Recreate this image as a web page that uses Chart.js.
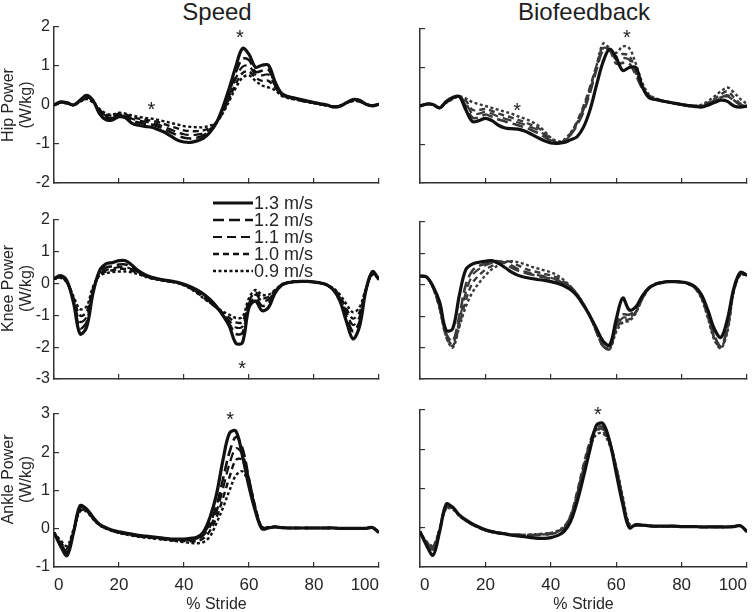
<!DOCTYPE html>
<html>
<head>
<meta charset="utf-8">
<script src="https://cdn.jsdelivr.net/npm/chart.js@4.4.0/dist/chart.umd.min.js"></script>
<style>
	body { margin:0; background:#fff; width:755px; height:612px; overflow:hidden; position:relative; font-family:Arial, "Liberation Sans", sans-serif; }
	canvas { position:absolute; }
	.colTitle { position:absolute; top:-2px; width:240px; text-align:center; font-size:24px; line-height:28px; color:#1e1e1e; }
</style>
</head>
<body>
<div class="colTitle" style="left:97px">Speed</div>
<div class="colTitle" style="left:464px">Biofeedback</div>

<canvas id="hipSpd"  width="381" height="194" style="left:0;top:8px"></canvas>
<canvas id="hipBio"  width="359" height="178" style="left:390px;top:17px"></canvas>
<canvas id="kneeSpd" width="381" height="208" style="left:0;top:190px"></canvas>
<canvas id="kneeBio" width="359" height="181" style="left:390px;top:210px"></canvas>
<canvas id="ankSpd"  width="392" height="220" style="left:0;top:395px"></canvas>
<canvas id="ankBio"  width="370" height="217" style="left:390px;top:398px"></canvas>

<script>
	// % stride samples shared by every curve
	var stride = [0,2,4,6,8,10,12,14,16,18, 20,22,24,26,28,30,32,34,36,38, 40,42,44,46,48,50,52,54,56,58,
		60,62,64,66,68,70,72,74,76,78, 80,82,84,86,88,90,92,94,96,98, 100];
	var speedLabels = ['1.3 m/s', '1.2 m/s', '1.1 m/s', '1.0 m/s', '0.9 m/s'];
	var xTicks = [0, 20, 40, 60, 80, 100];
	var hipTicks = [-2, -1, 0, 1, 2];
	var kneeTicks = [-3, -2, -1, 0, 1, 2];
	var ankleTicks = [-1, 0, 1, 2, 3];

	// hip power, speed condition
	var hipSpd13 = [0.00,0.08,0.06,0.00,0.12,0.25,0.12,-0.22,-0.38,-0.38, -0.30,-0.33,-0.47,-0.52,-0.55,-0.57,-0.63,-0.70,-0.80,-0.90,
		-0.95,-0.96,-0.92,-0.85,-0.70,-0.45,-0.05,0.45,1.00,1.45, 1.30,0.97,1.02,1.02,0.60,0.30,0.22,0.18,0.14,0.10,
		0.06,0.03,0.00,-0.05,-0.03,0.06,0.14,0.12,0.02,-0.02, 0.02];
	var hipSpd12 = [0.00,0.07,0.05,0.00,0.10,0.20,0.10,-0.18,-0.32,-0.34, -0.27,-0.30,-0.40,-0.45,-0.48,-0.50,-0.55,-0.62,-0.70,-0.78,
		-0.84,-0.86,-0.84,-0.78,-0.66,-0.45,-0.10,0.35,0.85,1.18, 1.15,0.85,0.88,0.90,0.56,0.29,0.21,0.17,0.13,0.09,
		0.05,0.02,-0.01,-0.05,-0.03,0.06,0.13,0.11,0.02,-0.02, 0.02];
	var hipSpd11 = [0.00,0.07,0.05,0.00,0.10,0.18,0.10,-0.15,-0.28,-0.30, -0.25,-0.27,-0.35,-0.40,-0.43,-0.45,-0.50,-0.56,-0.63,-0.70,
		-0.75,-0.77,-0.76,-0.72,-0.62,-0.45,-0.15,0.25,0.70,0.98, 1.00,0.78,0.76,0.78,0.50,0.27,0.20,0.16,0.12,0.08,
		0.05,0.02,-0.01,-0.04,-0.02,0.06,0.12,0.10,0.02,-0.02, 0.02];
	var hipSpd10 = [0.00,0.06,0.04,0.00,0.09,0.16,0.08,-0.12,-0.25,-0.27, -0.22,-0.24,-0.31,-0.35,-0.38,-0.40,-0.44,-0.49,-0.55,-0.60,
		-0.65,-0.67,-0.67,-0.65,-0.58,-0.45,-0.18,0.18,0.55,0.82, 0.86,0.70,0.62,0.62,0.45,0.26,0.19,0.15,0.11,0.08,
		0.05,0.02,-0.01,-0.04,-0.02,0.05,0.11,0.09,0.02,-0.02, 0.02];
	var hipSpd09 = [0.00,0.06,0.04,0.00,0.08,0.15,0.06,-0.10,-0.22,-0.24, -0.20,-0.22,-0.27,-0.30,-0.33,-0.35,-0.38,-0.42,-0.46,-0.50,
		-0.54,-0.56,-0.57,-0.57,-0.53,-0.44,-0.20,0.12,0.45,0.70, 0.76,0.62,0.50,0.45,0.38,0.24,0.18,0.14,0.11,0.08,
		0.05,0.02,-0.01,-0.04,-0.02,0.05,0.10,0.09,0.02,-0.02, 0.02];

	// hip power, biofeedback condition
	var hipBio13 = [0.00,0.05,0.04,-0.05,0.12,0.22,0.25,-0.10,-0.40,-0.38, -0.32,-0.38,-0.50,-0.57,-0.59,-0.60,-0.65,-0.73,-0.82,-0.90,
		-0.96,-0.97,-0.95,-0.88,-0.80,-0.55,-0.10,0.55,1.15,1.48, 1.25,0.92,1.00,1.00,0.50,0.22,0.17,0.13,0.10,0.07,
		0.04,0.01,-0.01,-0.03,0.02,0.09,0.15,0.12,0.00,-0.03, 0.00];
	var hipBio12 = [0.00,0.05,0.04,-0.05,0.10,0.20,0.25,0.00,-0.30,-0.30, -0.22,-0.28,-0.35,-0.40,-0.45,-0.50,-0.55,-0.62,-0.70,-0.80,
		-0.90,-0.97,-0.92,-0.75,-0.50,-0.15,0.35,0.95,1.45,1.45, 1.10,1.12,1.10,0.80,0.45,0.25,0.18,0.13,0.10,0.07,
		0.04,0.02,0.00,0.00,0.06,0.14,0.22,0.28,0.15,0.03, 0.00];
	var hipBio11 = [0.00,0.05,0.03,-0.05,0.10,0.19,0.25,0.08,-0.20,-0.20, -0.15,-0.20,-0.28,-0.33,-0.38,-0.43,-0.48,-0.55,-0.62,-0.74,
		-0.85,-0.95,-0.92,-0.75,-0.45,-0.10,0.40,1.00,1.50,1.45, 1.20,1.25,1.20,0.85,0.50,0.27,0.19,0.14,0.10,0.07,
		0.04,0.02,0.00,0.00,0.05,0.12,0.20,0.25,0.14,0.03, 0.00];
	var hipBio10 = [0.00,0.05,0.03,-0.05,0.09,0.18,0.25,0.14,-0.10,-0.10, -0.08,-0.13,-0.20,-0.25,-0.30,-0.36,-0.42,-0.49,-0.56,-0.70,
		-0.85,-0.96,-0.90,-0.72,-0.40,0.00,0.50,1.05,1.55,1.45, 1.28,1.35,1.30,0.90,0.52,0.28,0.19,0.14,0.10,0.07,
		0.04,0.02,0.00,0.01,0.08,0.18,0.30,0.38,0.22,0.06, 0.00];
	var hipBio09 = [0.00,0.05,0.03,-0.05,0.08,0.18,0.25,0.20,0.10,0.05, 0.00,-0.05,-0.10,-0.15,-0.20,-0.27,-0.33,-0.40,-0.50,-0.65,
		-0.82,-0.92,-0.88,-0.70,-0.45,-0.05,0.45,1.05,1.62,1.50, 1.38,1.55,1.50,1.10,0.60,0.30,0.20,0.14,0.10,0.06,
		0.03,0.00,0.00,0.03,0.12,0.25,0.38,0.48,0.35,0.18, 0.05];

	// knee power, speed condition
	var kneeSpd13 = [0.15,0.25,0.08,-0.60,-1.58,-1.38,-0.30,0.40,0.62,0.66, 0.72,0.72,0.58,0.40,0.28,0.20,0.15,0.11,0.08,0.04,
		-0.02,-0.10,-0.20,-0.33,-0.50,-0.72,-1.00,-1.35,-1.88,-1.85, -0.75,-0.55,-0.85,-0.75,-0.30,-0.05,0.03,0.06,0.07,0.07,
		0.05,0.02,-0.04,-0.20,-0.55,-1.20,-1.74,-1.35,-0.20,0.38, 0.12];
	var kneeSpd12 = [0.15,0.22,0.05,-0.55,-1.40,-1.22,-0.25,0.35,0.50,0.55, 0.60,0.60,0.50,0.36,0.26,0.19,0.14,0.10,0.07,0.03,
		-0.03,-0.12,-0.24,-0.38,-0.55,-0.75,-1.00,-1.28,-1.58,-1.55, -0.70,-0.45,-0.70,-0.62,-0.28,-0.05,0.03,0.06,0.07,0.07,
		0.05,0.02,-0.05,-0.20,-0.50,-1.05,-1.50,-1.20,-0.20,0.35, 0.15];
	var kneeSpd11 = [0.15,0.20,0.04,-0.50,-1.20,-1.05,-0.20,0.30,0.42,0.47, 0.52,0.52,0.45,0.34,0.25,0.18,0.14,0.10,0.07,0.03,
		-0.04,-0.14,-0.26,-0.42,-0.58,-0.76,-0.96,-1.18,-1.38,-1.35, -0.62,-0.35,-0.55,-0.50,-0.25,-0.04,0.03,0.06,0.07,0.07,
		0.05,0.02,-0.05,-0.18,-0.45,-0.90,-1.30,-1.05,-0.20,0.32, 0.15];
	var kneeSpd10 = [0.15,0.20,0.04,-0.45,-1.00,-0.90,-0.15,0.27,0.38,0.42, 0.46,0.46,0.40,0.32,0.24,0.17,0.13,0.09,0.06,0.02,
		-0.05,-0.15,-0.28,-0.44,-0.60,-0.76,-0.92,-1.08,-1.22,-1.20, -0.55,-0.28,-0.45,-0.42,-0.22,-0.04,0.03,0.06,0.07,0.07,
		0.05,0.02,-0.05,-0.16,-0.40,-0.80,-1.10,-0.90,-0.18,0.30, 0.15];
	var kneeSpd09 = [0.15,0.18,0.03,-0.40,-0.80,-0.72,-0.10,0.25,0.33,0.36, 0.38,0.38,0.35,0.29,0.22,0.16,0.12,0.09,0.06,0.02,
		-0.06,-0.16,-0.30,-0.46,-0.60,-0.74,-0.88,-0.98,-1.08,-1.05, -0.45,-0.20,-0.35,-0.35,-0.20,-0.03,0.03,0.06,0.07,0.07,
		0.05,0.02,-0.05,-0.15,-0.35,-0.65,-0.90,-0.75,-0.15,0.28, 0.15];

	// knee power, biofeedback condition
	var kneeBio13 = [0.28,0.25,-0.05,-0.55,-1.45,-1.40,-0.35,0.48,0.66,0.72, 0.75,0.77,0.68,0.55,0.40,0.30,0.24,0.20,0.17,0.14,
		0.10,0.05,-0.03,-0.15,-0.35,-0.65,-1.00,-1.40,-1.80,-1.92, -1.10,-0.42,-0.80,-0.70,-0.35,-0.10,0.02,0.07,0.10,0.10,
		0.09,0.05,-0.05,-0.30,-0.80,-1.40,-1.68,-1.10,-0.10,0.40, 0.30];
	var kneeBio12 = [0.28,0.25,-0.08,-0.70,-1.55,-1.80,-1.00,0.00,0.45,0.60, 0.68,0.74,0.75,0.68,0.55,0.45,0.38,0.33,0.28,0.24,
		0.20,0.14,0.05,-0.08,-0.30,-0.62,-1.00,-1.50,-1.95,-2.00, -1.30,-0.95,-0.95,-0.80,-0.40,-0.10,0.03,0.08,0.10,0.10,
		0.08,0.03,-0.08,-0.35,-0.90,-1.60,-1.95,-1.35,-0.15,0.35, 0.30];
	var kneeBio11 = [0.28,0.25,-0.08,-0.72,-1.60,-1.90,-1.15,-0.25,0.30,0.50, 0.62,0.70,0.74,0.72,0.62,0.50,0.42,0.36,0.31,0.27,
		0.22,0.16,0.07,-0.06,-0.30,-0.62,-1.00,-1.50,-1.95,-2.02, -1.35,-1.05,-1.05,-0.85,-0.42,-0.11,0.03,0.08,0.10,0.10,
		0.08,0.03,-0.08,-0.38,-0.95,-1.65,-1.98,-1.40,-0.15,0.35, 0.30];
	var kneeBio10 = [0.28,0.25,-0.10,-0.75,-1.65,-1.95,-1.30,-0.50,0.05,0.30, 0.48,0.60,0.70,0.76,0.72,0.62,0.52,0.45,0.40,0.35,
		0.30,0.22,0.10,-0.05,-0.30,-0.62,-1.00,-1.50,-1.95,-2.05, -1.40,-1.15,-1.10,-0.88,-0.44,-0.12,0.03,0.08,0.10,0.10,
		0.08,0.03,-0.10,-0.40,-1.00,-1.70,-2.00,-1.45,-0.18,0.33, 0.30];
	var kneeBio09 = [0.28,0.25,-0.10,-0.75,-1.65,-2.00,-1.35,-0.70,-0.25,0.05, 0.30,0.50,0.62,0.72,0.75,0.72,0.66,0.58,0.52,0.46,
		0.40,0.30,0.15,-0.05,-0.30,-0.62,-1.00,-1.50,-1.95,-2.05, -1.50,-1.20,-1.15,-0.90,-0.45,-0.12,0.03,0.08,0.10,0.10,
		0.08,0.03,-0.10,-0.42,-1.05,-1.75,-2.02,-1.50,-0.20,0.32, 0.30];

	// ankle power, speed condition
	var ankSpd13 = [-0.10,-0.45,-0.70,-0.10,0.60,0.52,0.30,0.12,0.03,-0.04, -0.08,-0.11,-0.14,-0.17,-0.19,-0.21,-0.23,-0.25,-0.27,-0.27,
		-0.27,-0.25,-0.22,-0.08,0.30,0.90,1.80,2.50,2.55,1.90, 1.10,0.45,0.00,0.02,0.05,0.03,0.02,0.02,0.02,0.02,
		0.02,0.02,0.02,0.02,0.01,0.01,0.01,0.01,0.01,0.03, -0.10];
	var ankSpd12 = [-0.10,-0.40,-0.62,-0.10,0.55,0.50,0.28,0.11,0.02,-0.05, -0.09,-0.12,-0.15,-0.18,-0.20,-0.22,-0.24,-0.26,-0.28,-0.28,
		-0.28,-0.27,-0.25,-0.12,0.15,0.60,1.30,2.00,2.40,2.10, 1.30,0.50,0.00,0.03,0.05,0.03,0.02,0.02,0.02,0.02,
		0.02,0.02,0.02,0.02,0.01,0.01,0.01,0.01,0.01,0.03, -0.10];
	var ankSpd11 = [-0.10,-0.38,-0.58,-0.08,0.50,0.48,0.27,0.10,0.01,-0.05, -0.10,-0.13,-0.16,-0.19,-0.21,-0.23,-0.25,-0.27,-0.29,-0.29,
		-0.30,-0.30,-0.28,-0.17,0.05,0.45,1.05,1.70,2.10,1.95, 1.30,0.55,0.02,0.03,0.05,0.03,0.02,0.02,0.02,0.02,
		0.02,0.02,0.02,0.02,0.01,0.01,0.01,0.01,0.01,0.03, -0.10];
	var ankSpd10 = [-0.10,-0.35,-0.52,-0.05,0.48,0.46,0.26,0.10,0.01,-0.05, -0.10,-0.14,-0.17,-0.20,-0.22,-0.24,-0.26,-0.28,-0.30,-0.31,
		-0.32,-0.33,-0.32,-0.25,-0.05,0.30,0.80,1.35,1.80,1.80, 1.25,0.55,0.03,0.04,0.05,0.03,0.02,0.02,0.02,0.02,
		0.02,0.02,0.02,0.02,0.01,0.01,0.01,0.01,0.01,0.03, -0.10];
	var ankSpd09 = [-0.10,-0.30,-0.45,-0.02,0.45,0.45,0.25,0.09,0.00,-0.06, -0.11,-0.15,-0.18,-0.21,-0.23,-0.25,-0.27,-0.29,-0.31,-0.33,
		-0.35,-0.37,-0.38,-0.35,-0.20,0.15,0.55,1.00,1.40,1.50, 1.15,0.50,0.05,0.04,0.05,0.03,0.02,0.02,0.02,0.02,
		0.02,0.02,0.02,0.02,0.01,0.01,0.01,0.01,0.01,0.03, -0.10];

	// ankle power, biofeedback condition
	var ankBio13 = [-0.10,-0.45,-0.70,-0.10,0.60,0.52,0.33,0.20,0.10,0.02, -0.05,-0.10,-0.13,-0.16,-0.19,-0.21,-0.23,-0.25,-0.27,-0.27,
		-0.25,-0.20,-0.10,0.15,0.65,1.30,2.00,2.62,2.65,2.20, 1.40,0.60,0.00,0.08,0.07,0.05,0.04,0.04,0.04,0.04,
		0.03,0.03,0.03,0.02,0.02,0.02,0.02,0.02,0.03,0.05, -0.10];
	var ankBio12 = [-0.10,-0.40,-0.55,-0.05,0.55,0.50,0.32,0.19,0.09,0.01, -0.06,-0.10,-0.13,-0.15,-0.17,-0.18,-0.19,-0.19,-0.19,-0.18,
		-0.16,-0.12,-0.02,0.25,0.80,1.50,2.15,2.55,2.55,2.20, 1.50,0.70,0.05,0.06,0.06,0.05,0.04,0.04,0.04,0.04,
		0.03,0.03,0.03,0.02,0.02,0.02,0.02,0.02,0.03,0.05, -0.10];
	var ankBio11 = [-0.10,-0.38,-0.50,-0.05,0.52,0.50,0.32,0.19,0.09,0.01, -0.06,-0.10,-0.13,-0.15,-0.17,-0.18,-0.19,-0.19,-0.18,-0.17,
		-0.15,-0.10,0.00,0.30,0.85,1.55,2.15,2.50,2.50,2.20, 1.55,0.75,0.05,0.06,0.06,0.05,0.04,0.04,0.04,0.04,
		0.03,0.03,0.03,0.02,0.02,0.02,0.02,0.02,0.03,0.05, -0.10];
	var ankBio10 = [-0.10,-0.36,-0.48,-0.04,0.50,0.48,0.31,0.18,0.08,0.00, -0.07,-0.11,-0.14,-0.16,-0.17,-0.18,-0.18,-0.18,-0.17,-0.16,
		-0.14,-0.10,0.02,0.30,0.90,1.60,2.20,2.50,2.45,2.15, 1.55,0.75,0.06,0.06,0.06,0.05,0.04,0.04,0.04,0.04,
		0.03,0.03,0.03,0.02,0.02,0.02,0.02,0.02,0.03,0.05, -0.10];
	var ankBio09 = [-0.10,-0.35,-0.45,-0.03,0.48,0.47,0.30,0.18,0.08,0.00, -0.07,-0.11,-0.14,-0.16,-0.17,-0.18,-0.18,-0.17,-0.16,-0.15,
		-0.13,-0.08,0.03,0.25,0.85,1.50,2.05,2.38,2.40,2.10, 1.55,0.80,0.10,0.06,0.06,0.05,0.04,0.04,0.04,0.04,
		0.03,0.03,0.03,0.02,0.02,0.02,0.02,0.02,0.03,0.05, -0.10];

	// significance markers: [% stride, power]
	var hipSpdStars = [[30, 0.0], [57.2, 1.86]];
	var hipBioStars = [[29.7, 0.0], [63.3, 1.9]];
	var kneeSpdStars = [[57.9, -2.5]];
	var kneeBioStars = [];
	var ankSpdStars = [[54.2, 2.98]];
	var ankBioStars = [[54.4, 3.0]];

	var fam = 'Arial, "Liberation Sans", sans-serif';
	var axisCol = '#262626';
	var dashes = [[], [11, 5], [9, 5], [6, 4], [3, 2.5]];
	var widths = [3.2, 2.6, 2.2, 2.4, 2.4];

	Chart.defaults.font.family = fam;
	Chart.defaults.color = axisCol;

	var starPlugin = {
		id: 'stars',
		afterDatasetsDraw: function(chart, args, opts) {
			var ctx = chart.ctx;
			ctx.save();
			ctx.fillStyle = '#222';
			ctx.font = '20px ' + fam;
			ctx.textAlign = 'center';
			ctx.textBaseline = 'alphabetic';
			(opts.points || []).forEach(function(p) {
				var px = chart.scales.x.getPixelForValue(p[0]);
				var py = chart.scales.y.getPixelForValue(p[1]);
				ctx.fillText('*', px, py + 11.4);
			});
			ctx.restore();
		}
	};

	var legendPlugin = {
		id: 'speedLegend',
		afterDraw: function(chart, args, opts) {
			if (!opts.show) return;
			var ctx = chart.ctx;
			chart.data.datasets.forEach(function(ds, i) {
				var y = opts.y + i * opts.step;
				ctx.save();
				ctx.strokeStyle = ds.borderColor;
				ctx.lineWidth = ds.borderWidth;
				ctx.setLineDash(ds.borderDash);
				ctx.beginPath();
				ctx.moveTo(opts.x, y);
				ctx.lineTo(opts.x + opts.len, y);
				ctx.stroke();
				ctx.setLineDash([]);
				ctx.fillStyle = axisCol;
				ctx.font = '18px ' + fam;
				ctx.textBaseline = 'middle';
				ctx.fillText(ds.label, opts.x + opts.len + 1, y + 1);
				ctx.restore();
			});
		}
	};

	function toPoints(vals) {
		return vals.map(function(v, i) { return {x: stride[i], y: v}; });
	}

	function buildPanel(p) {
		var datasets = p.series.map(function(vals, i) {
			var col = '#111';
			if (p.bio && i > 0) col = '#3a3a3a';
			return {
				label: speedLabels[i],
				data: toPoints(vals),
				borderColor: col,
				borderWidth: widths[i],
				borderDash: dashes[i],
				pointRadius: 0,
				tension: 0.35,
				fill: false
			};
		});
		var yt = p.ticks;
		var padRight = p.bottom ? 13 : 2;
		new Chart(document.getElementById(p.id), {
			type: 'line',
			data: {datasets: datasets},
			options: {
				responsive: false,
				animation: false,
				events: [],
				layout: {autoPadding: false, padding: {top: p.padTop, right: padRight, bottom: 0, left: 0}},
				plugins: {
					legend: {display: false},
					tooltip: {enabled: false},
					stars: {points: p.stars},
					speedLegend: {show: !!p.legend, x: 213, y: 13, step: 17, len: 40}
				},
				scales: {
					x: {
						type: 'linear', min: xTicks[0], max: xTicks[xTicks.length - 1],
						afterBuildTicks: function(s) { s.ticks = xTicks.map(function(v) { return {value: v}; }); },
						ticks: {display: p.bottom, font: {size: 17}, color: axisCol, align: 'inner', padding: 13, maxRotation: 0},
						grid: {drawOnChartArea: false, drawTicks: true, tickLength: -5, color: '#333', lineWidth: 1.2},
						border: {display: true, color: '#333', width: 1.5},
						title: {display: p.bottom, text: '% Stride', font: {size: 16}, color: axisCol, padding: {top: 0, bottom: 1}},
						afterFit: function(s) { s.height = p.bottom ? 48 : (p.left ? 19 : 12); }
					},
					y: {
						min: yt[0], max: yt[yt.length - 1],
						afterBuildTicks: function(s) { s.ticks = yt.map(function(v) { return {value: v}; }); },
						ticks: {display: p.left, font: {size: 16}, color: axisCol, padding: 9},
						grid: {drawOnChartArea: false, drawTicks: true, tickLength: -5, color: '#333', lineWidth: 1.2},
						border: {display: true, color: '#333', width: 1.5},
						title: {display: p.left, text: p.yTitle, font: {size: 16, lineHeight: 1.1}, color: axisCol, padding: 0},
						afterFit: function(s) { s.width = p.left ? 54 : 30; }
					}
				}
			},
			plugins: [starPlugin, legendPlugin]
		});
	}

	// knee and ankle labels sit a little above the middle of their axes in the figure
	var panels = [
		{id: 'hipSpd', series: [hipSpd13, hipSpd12, hipSpd11, hipSpd10, hipSpd09], ticks: hipTicks, yTitle: ['Hip Power', '(W/kg)'],
			left: true, bottom: false, bio: false, padTop: 19, stars: hipSpdStars},
		{id: 'hipBio', series: [hipBio13, hipBio12, hipBio11, hipBio10, hipBio09], ticks: hipTicks, yTitle: '',
			left: false, bottom: false, bio: true, padTop: 12, stars: hipBioStars},
		{id: 'kneeSpd', series: [kneeSpd13, kneeSpd12, kneeSpd11, kneeSpd10, kneeSpd09], ticks: kneeTicks, yTitle: ['     Knee Power', '     (W/kg)'],
			left: true, bottom: false, bio: false, padTop: 30, stars: kneeSpdStars, legend: true},
		{id: 'kneeBio', series: [kneeBio13, kneeBio12, kneeBio11, kneeBio10, kneeBio09], ticks: kneeTicks, yTitle: '',
			left: false, bottom: false, bio: true, padTop: 12, stars: kneeBioStars},
		{id: 'ankSpd', series: [ankSpd13, ankSpd12, ankSpd11, ankSpd10, ankSpd09], ticks: ankleTicks, yTitle: ['     Ankle Power', '     (W/kg)'],
			left: true, bottom: true, bio: false, padTop: 19, stars: ankSpdStars},
		{id: 'ankBio', series: [ankBio13, ankBio12, ankBio11, ankBio10, ankBio09], ticks: ankleTicks, yTitle: '',
			left: false, bottom: true, bio: true, padTop: 12, stars: ankBioStars}
	];

	panels.forEach(buildPanel);
</script>
</body>
</html>
